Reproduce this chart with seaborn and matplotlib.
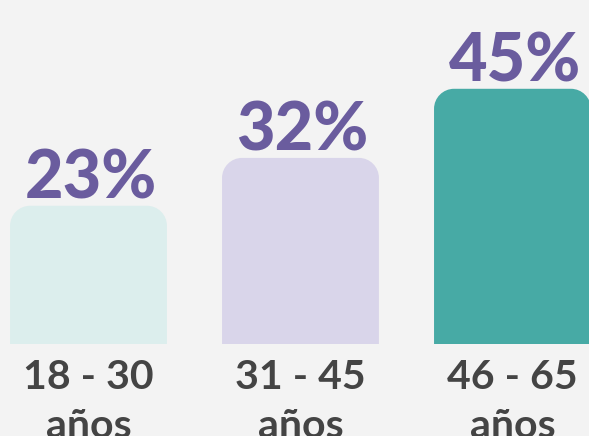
import numpy as np
import pandas as pd
import matplotlib
matplotlib.use("Agg")
import matplotlib.pyplot as plt
from matplotlib.path import Path
from matplotlib.patches import PathPatch
import seaborn as sns

## datos
grupos = ["18 - 30\naños", "31 - 45\naños", "46 - 65\naños"]
porcentajes = [23, 32, 45]
colores = ["#dceeed", "#d9d5ea", "#47aaa5"]

fondo = "#f3f3f3"
morado = "#6a5c9e"
gris = "#444444"

df = pd.DataFrame({"grupo": grupos, "pct": porcentajes})

sns.set_style("white")
plt.rcParams["font.family"] = ["Lato", "DejaVu Sans"]

fig = plt.figure(figsize=(5.89, 4.36), dpi=100, facecolor=fondo)
ax = fig.add_axes([0, 92 / 436, 1, 344 / 436])
ax.set_facecolor(fondo)

sns.barplot(data=df, x="grupo", y="pct", hue="grupo", palette=colores,
            saturation=1, width=0.74, legend=False, ax=ax)

y_min = -3
ax.set_xlim(-0.4175, 2.361)
ax.set_ylim(y_min, 61.7)

# barras con esquinas superiores redondeadas
rx = 20 / 212
ry = 20 / 5.32
k = 0.5523
for p in ax.patches:
    x0 = p.get_x()
    w = p.get_width()
    top = p.get_height()
    x1 = x0 + w
    verts = [
        (x0, y_min), (x0, top - ry),
        (x0, top - ry + k * ry), (x0 + rx - k * rx, top), (x0 + rx, top),
        (x1 - rx, top),
        (x1 - rx + k * rx, top), (x1, top - ry + k * ry), (x1, top - ry),
        (x1, y_min), (x0, y_min),
    ]
    codes = [Path.MOVETO, Path.LINETO,
             Path.CURVE4, Path.CURVE4, Path.CURVE4,
             Path.LINETO,
             Path.CURVE4, Path.CURVE4, Path.CURVE4,
             Path.LINETO, Path.CLOSEPOLY]
    ax.add_patch(PathPatch(Path(verts, codes), facecolor=p.get_facecolor(),
                           edgecolor="none", clip_on=False))
    p.set_visible(False)
    ax.annotate(f"{int(round(top))}%", (x0 + w / 2 + 0.01, top), xytext=(0, 5),
                textcoords="offset points", ha="center", va="baseline",
                fontsize=48, fontweight="black", color=morado)

ax.set_xlabel("")
ax.set_ylabel("")
ax.set_yticks([])
ax.tick_params(axis="x", length=0, pad=11, labelsize=29.5, labelcolor=gris)
for t in ax.get_xticklabels():
    t.set_fontweight("bold")
    t.set_linespacing(1.4)
sns.despine(ax=ax, left=True, bottom=True)

fig.savefig("out.png", dpi=100, facecolor=fondo)
